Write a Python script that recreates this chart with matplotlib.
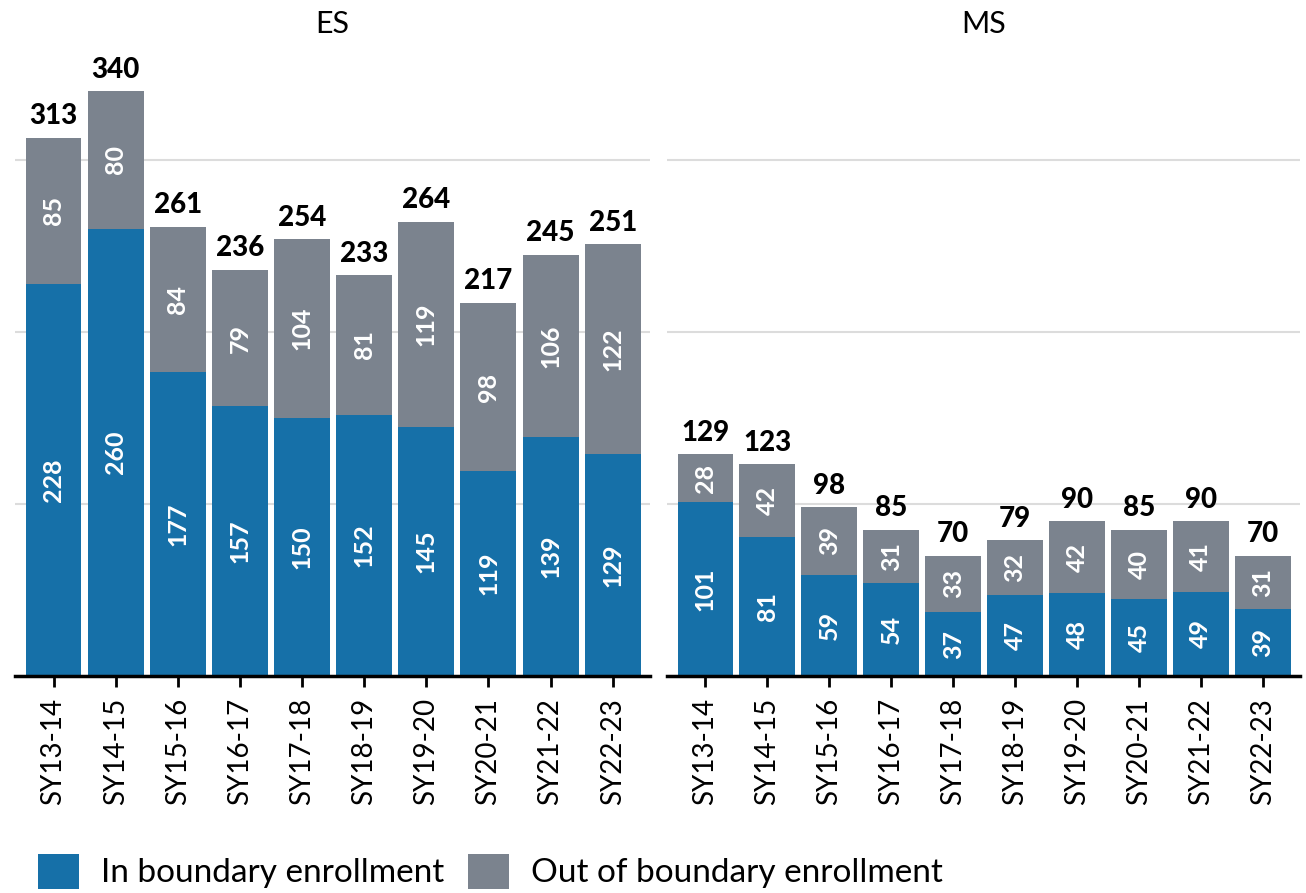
import matplotlib
matplotlib.use("Agg")
import matplotlib.pyplot as plt
from matplotlib.patches import Patch
import numpy as np

plt.rcParams['font.family'] = ['Lato', 'DejaVu Sans']

years = ["SY13-14", "SY14-15", "SY15-16", "SY16-17", "SY17-18",
         "SY18-19", "SY19-20", "SY20-21", "SY21-22", "SY22-23"]
es_in = [228, 260, 177, 157, 150, 152, 145, 119, 139, 129]
es_out = [85, 80, 84, 79, 104, 81, 119, 98, 106, 122]
es_total = [313, 340, 261, 236, 254, 233, 264, 217, 245, 251]
ms_in = [101, 81, 59, 54, 37, 47, 48, 45, 49, 39]
ms_out = [28, 42, 39, 31, 33, 32, 42, 40, 41, 31]
ms_total = [129, 123, 98, 85, 70, 79, 90, 85, 90, 70]
panels = ["ES", "MS"]
legend_labels = ["In boundary enrollment", "Out of boundary enrollment"]

BLUE = "#1670a8"
GRAY = "#7b838e"

W, H = 1306, 893
fig = plt.figure(figsize=(W / 100, H / 100), dpi=100)

ax_bottom = (H - 676) / H
ymax = 370
ax_height = ymax * 1.72 / H
axes = [fig.add_axes([15 / W, ax_bottom, (650 - 15) / W, ax_height]),
        fig.add_axes([667 / W, ax_bottom, (1300 - 667) / W, ax_height])]

data = [(es_in, es_out, es_total), (ms_in, ms_out, ms_total)]
x = np.arange(len(years))

for ax, title, (vin, vout, vtot) in zip(axes, panels, data):
    ax.bar(x, vin, width=0.9, color=BLUE, zorder=2)
    ax.bar(x, vout, bottom=vin, width=0.9, color=GRAY, zorder=2)
    for xi, a, b, t in zip(x, vin, vout, vtot):
        ax.text(xi, a / 2, str(a), rotation=90, ha='center', va='center',
                color='white', fontsize=18, fontweight='bold', zorder=3)
        ax.text(xi, a + b / 2, str(b), rotation=90, ha='center', va='center',
                color='white', fontsize=18, fontweight='bold', zorder=3)
        ax.text(xi, t + 5, str(t), ha='center', va='bottom',
                color='black', fontsize=20, fontweight='black', zorder=3)
    ax.set_xlim(-0.62, 9.6)
    ax.set_ylim(0, ymax)
    ax.set_yticks([100, 200, 300])
    ax.yaxis.grid(True, color='#dcdcdc', linewidth=1.5, zorder=0)
    ax.tick_params(axis='y', left=False, labelleft=False)
    ax.set_xticks(x)
    ax.set_xticklabels(years, rotation=90, fontsize=20)
    ax.tick_params(axis='x', direction='out', length=8, width=2, pad=8)
    for s in ['top', 'right', 'left']:
        ax.spines[s].set_visible(False)
    ax.spines['bottom'].set_linewidth(2.5)
    ax.spines['bottom'].set_zorder(4)

fig.text((15 + 650) / 2 / W, 1 - 24 / H, panels[0], ha='center', va='center', fontsize=22)
fig.text((667 + 1300) / 2 / W, 1 - 24 / H, panels[1], ha='center', va='center', fontsize=22)

handles = [Patch(facecolor=BLUE), Patch(facecolor=GRAY)]
fig.legend(handles, legend_labels, loc='lower left', bbox_to_anchor=(0.019, -0.01),
           ncol=2, frameon=False, fontsize=24, handlelength=1.23, handleheight=1.23,
           handletextpad=0.66, columnspacing=0.72, borderaxespad=0)

fig.savefig("out.png", dpi=100)
